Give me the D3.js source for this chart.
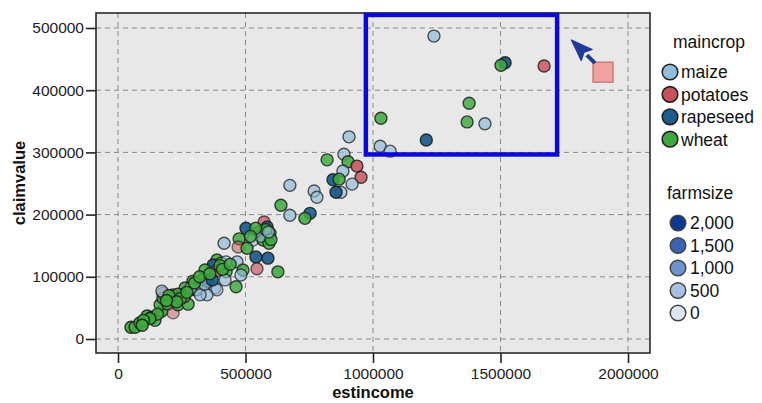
<!DOCTYPE html>
<html><head><meta charset="utf-8">
<script src="https://cdn.jsdelivr.net/npm/d3@7"></script>
<style>body{margin:0;background:#fff}svg{display:block}text{font-family:"Liberation Sans",Arial,sans-serif}</style>
</head><body><svg id="c" width="762" height="403"></svg>
<script>
// ---- data ----
const xTicks = [0, 500000, 1000000, 1500000, 2000000];
const yTicks = [0, 100000, 200000, 300000, 400000, 500000];
const cropCategories = ["maize", "potatoes", "rapeseed", "wheat"];
const farmsizeLegend = [2000, 1500, 1000, 500, 0];
const estincome = [1239000,1518000,1502000,1671000,1377000,1031000,1369000,1439000,1209000,1028000,1067000,
  906000,820000,886000,902000,937000,882000,953000,843000,867000,918000,874000,855000,674000,769000,780000,639000,674000,753000,733000,
  573000,502000,585000,553000,596000,475000,529000,569000,592000,416000,471000,506000,541000,588000,467000,545000,490000,627000,482000,463000,
  388000,404000,424000,376000,373000,384000,424000,341000,294000,333000,353000,420000,380000,263000,302000,310000,388000,349000,322000,
  51000,67000,86000,114000,133000,145000,172000,165000,176000,176000,172000,196000,216000,235000,216000,251000,275000,260000,235000,200000,285000,245000,
  560000,580000,540000,
  340000,370000,230000,270000,300000,320000,360000,400000,410000,190000,155000,125000,100000,95000,440000,520000,600000,590000];
const claimvalue = [487000,444000,440000,439000,379000,355000,349000,346000,320000,310000,302000,
  325000,288000,297000,285000,278000,270000,260000,256000,257000,249000,236000,236000,247000,238000,228000,215000,199000,202000,194000,
  188000,178000,180000,172000,170000,161000,159000,159000,154000,154000,148000,146000,132000,130000,124000,113000,111000,108000,103000,84000,
  127000,122000,124000,116000,119000,109000,108000,111000,93000,96000,92000,95000,82000,82000,79000,79000,79000,71000,71000,
  19000,19000,26000,37000,35000,30000,45000,55000,66000,74000,77000,56000,42000,55000,71000,71000,56000,68000,72000,70000,82000,65000,
  165000,176000,178000,
  88000,95000,60000,75000,90000,100000,105000,118000,112000,62000,40000,33000,30000,22000,120000,165000,160000,172000];
const maincrop = ["maize","rapeseed","wheat","potatoes","wheat","wheat","wheat","maize","rapeseed","maize","maize",
  "maize","wheat","maize","wheat","potatoes","maize","potatoes","rapeseed","wheat","maize","maize","rapeseed","maize","maize","maize","wheat","maize","rapeseed","wheat",
  "potatoes","rapeseed","rapeseed","wheat","wheat","wheat","maize","wheat","wheat","maize","potatoes","wheat","rapeseed","rapeseed","maize","potatoes","wheat","wheat","maize","wheat",
  "wheat","wheat","maize","wheat","rapeseed","potatoes","wheat","wheat","wheat","wheat","rapeseed","maize","maize","wheat","wheat","maize","maize","maize","maize",
  "wheat","wheat","wheat","wheat","wheat","wheat","wheat","wheat","wheat","potatoes","maize","wheat","potatoes","wheat","wheat","wheat","wheat","wheat","wheat","wheat","maize","wheat",
  "maize","wheat","wheat",
  "maize","rapeseed","wheat","wheat","wheat","wheat","wheat","wheat","wheat","wheat","wheat","wheat","wheat","wheat","wheat","wheat","wheat","maize"];
const farmsize = [1200,1900,1600,1500,1500,1600,1500,1200,1800,1200,1000,
  1300,1500,1100,1600,1600,1200,1500,1800,1600,1100,1100,1900,1300,1100,1000,1600,1200,1700,1600,
  1200,1800,1700,1400,1500,1600,600,1600,1500,1200,600,1600,1800,1800,1200,1000,1500,1700,1000,1500,
  1600,1600,900,1600,1800,1200,1500,1600,1600,1600,1800,1000,900,1600,1600,900,900,1000,1000,
  1800,1700,1600,1700,1600,1600,1700,1600,1600,500,1100,1600,500,1600,1600,1600,1600,1500,1500,1600,900,1500,
  600,1500,1500,
  1000,1700,1600,1600,1700,1600,1600,1500,1600,1700,1600,1700,1800,1800,1500,1400,1500,1000];
// annotations (data space)
const selectionBox = {x0: 972000, x1: 1722000, y0: 296700, y1: 521000};
const markerSquare = {x: 1902000, y: 429000};
const arrowTip = {x: 1777000, y: 481000};

// ---- layout ----
const plot = {l: 96, r: 650, t: 13, b: 353};
const svg = d3.select("#c");
const x = d3.scaleLinear().domain([-86270, 2086270]).range([plot.l, plot.r]);
const y = d3.scaleLinear().domain([-22500, 524100]).range([plot.b, plot.t]);
const cropColor = d3.scaleOrdinal().domain(cropCategories).range(["#93bdd8", "#c8525a", "#1b5d8c", "#3eaa3e"]);
const alpha = d3.scaleLinear().domain([0, 2000]).range([0.3, 1]);
const sizeColor = d3.scaleOrdinal().domain(farmsizeLegend).range(["#0b3790", "#3b62b0", "#6f93cc", "#a9c0e2", "#dde7f3"]);

svg.append("rect").attr("x", plot.l).attr("y", plot.t).attr("width", plot.r - plot.l).attr("height", plot.b - plot.t)
  .attr("fill", "#e8e8e8");

// grid
const grid = svg.append("g").attr("stroke", "#8a8a8a").attr("stroke-width", 1).attr("stroke-dasharray", "5,4");
grid.selectAll(".gx").data(xTicks).join("line").attr("x1", d => x(d)).attr("x2", d => x(d))
  .attr("y1", plot.t).attr("y2", plot.b);
grid.selectAll(".gy").data(yTicks).join("line").attr("y1", d => y(d)).attr("y2", d => y(d))
  .attr("x1", plot.l).attr("x2", plot.r);

// axes
const fmt = d3.format("d");
const xAxis = svg.append("g").attr("transform", `translate(0,${plot.b})`)
  .call(d3.axisBottom(x).tickValues(xTicks).tickFormat(fmt).tickSize(10).tickPadding(5));
const yAxis = svg.append("g").attr("transform", `translate(${plot.l},0)`)
  .call(d3.axisLeft(y).tickValues(yTicks).tickFormat(fmt).tickSize(10).tickPadding(2));
[xAxis, yAxis].forEach(a => {
  a.select(".domain").remove();
  a.selectAll(".tick line").attr("stroke", "#222").attr("stroke-width", 1.6);
  a.selectAll(".tick text").attr("font-size", "15.5px").attr("fill", "#222").attr("font-family", "Liberation Sans, Arial, sans-serif");
});

// points
const idx = d3.range(estincome.length);
svg.append("g").selectAll("circle").data(idx).join("circle")
  .attr("cx", i => x(estincome[i])).attr("cy", i => y(claimvalue[i])).attr("r", 6)
  .attr("fill", i => cropColor(maincrop[i]))
  .attr("fill-opacity", i => alpha(farmsize[i]))
  .attr("stroke", "#1a1a1a").attr("stroke-opacity", i => 0.3 + 0.6 * alpha(farmsize[i]))
  .attr("stroke-width", 1.4);

// plot border
svg.append("rect").attr("x", plot.l).attr("y", plot.t).attr("width", plot.r - plot.l).attr("height", plot.b - plot.t)
  .attr("fill", "none").attr("stroke", "#2a2a2a").attr("stroke-width", 1.6);

// selection box
svg.append("rect").attr("x", x(selectionBox.x0)).attr("y", y(selectionBox.y1))
  .attr("width", x(selectionBox.x1) - x(selectionBox.x0)).attr("height", y(selectionBox.y0) - y(selectionBox.y1))
  .attr("fill", "none").attr("stroke", "#0a0ad8").attr("stroke-width", 4.5);

// marker square + arrow
const sq = 20;
svg.append("rect").attr("x", x(markerSquare.x) - sq / 2).attr("y", y(markerSquare.y) - sq / 2)
  .attr("width", sq).attr("height", sq).attr("fill", "#f0a2a2").attr("stroke", "#c46a6a").attr("stroke-width", 1.2);
{
  const sx = x(markerSquare.x) - sq / 2 + 2, sy = y(markerSquare.y) - sq / 2 + 1;
  const tx = x(arrowTip.x), ty = y(arrowTip.y);
  const ang = Math.atan2(ty - sy, tx - sx);
  const hl = 22, hw = 8;
  const bx = tx - hl * Math.cos(ang), by = ty - hl * Math.sin(ang);
  svg.append("line").attr("x1", sx).attr("y1", sy).attr("x2", bx).attr("y2", by)
    .attr("stroke", "#1f3a9c").attr("stroke-width", 4);
  const px = -Math.sin(ang), py = Math.cos(ang);
  svg.append("path").attr("d", `M${tx},${ty}L${bx + hw * px},${by + hw * py}L${bx + 4 * Math.cos(ang)},${by + 4 * Math.sin(ang)}L${bx - hw * px},${by - hw * py}Z`)
    .attr("fill", "#1f3a9c").attr("stroke", "#1f3a9c").attr("stroke-width", 1);
}

// axis titles
svg.append("text").attr("x", (x(0) + x(2000000)) / 2).attr("y", 398).attr("text-anchor", "middle")
  .attr("font-weight", "bold").attr("font-size", "16.5px").attr("fill", "#111").text("estincome");
svg.append("text").attr("transform", `translate(25,${(plot.t + plot.b) / 2}) rotate(-90)`).attr("text-anchor", "middle")
  .attr("font-weight", "bold").attr("font-size", "16.5px").attr("fill", "#111").text("claimvalue");

// legend: maincrop
const lg = svg.append("g");
lg.append("text").attr("x", 673).attr("y", 48).attr("font-size", "17.5px").attr("fill", "#111").text("maincrop");
const li = lg.selectAll(".mc").data(cropCategories).join("g").attr("transform", (d, i) => `translate(670,${72 + i * 22.4})`);
li.append("circle").attr("r", 7.8).attr("fill", d => cropColor(d)).attr("stroke", "#222").attr("stroke-width", 1.6);
li.append("text").attr("x", 11).attr("dy", "0.36em").attr("font-size", "17.5px").attr("fill", "#111").text(d => d);

// legend: farmsize
lg.append("text").attr("x", 667).attr("y", 199).attr("font-size", "17.5px").attr("fill", "#111").text("farmsize");
const fi = lg.selectAll(".fs").data(farmsizeLegend).join("g").attr("transform", (d, i) => `translate(678,${223 + i * 22.5})`);
fi.append("circle").attr("r", 7.8).attr("fill", d => sizeColor(d)).attr("stroke", "#444").attr("stroke-width", 1.5);
fi.append("text").attr("x", 12).attr("dy", "0.36em").attr("font-size", "17.5px").attr("fill", "#111").text(d => d3.format(",")(d));
</script></body></html>
